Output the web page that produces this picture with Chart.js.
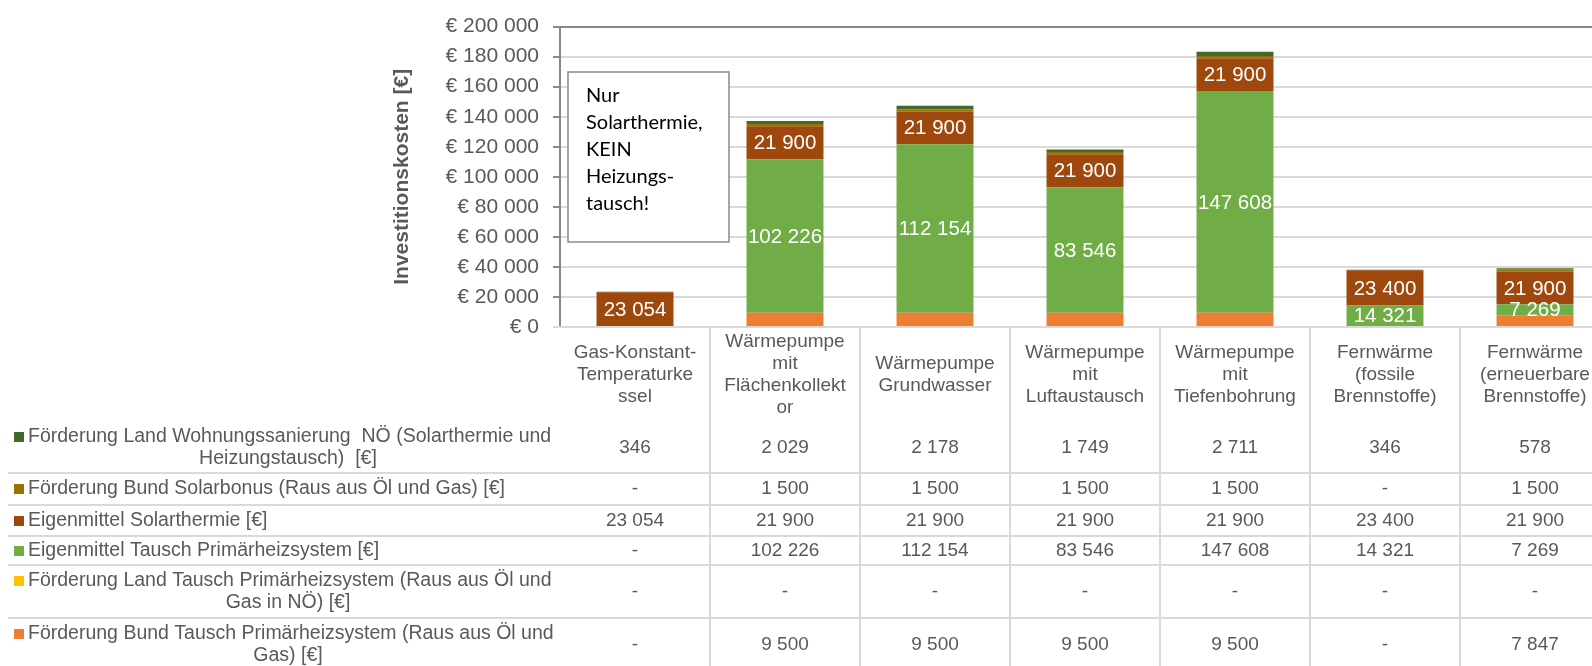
<!DOCTYPE html>
<html lang="de">
<head>
<meta charset="utf-8">
<title>Investitionskosten</title>
<script src="https://cdn.jsdelivr.net/npm/chart.js@4.4.1/dist/chart.umd.min.js"></script>
<style>
  html, body { margin: 0; padding: 0; background: #fff; overflow: hidden; }
  #wrap { width: 1592px; height: 666px; overflow: hidden; }
  canvas { display: block; }
</style>
</head>
<body>
<div id="wrap"><canvas id="chart" width="1620" height="666"></canvas></div>
<script>
// Kategorien (Zeilenumbrüche wie in der Tabelle)
const categories = [
  ['Gas-Konstant-', 'Temperaturke', 'ssel'],
  ['Wärmepumpe', 'mit', 'Flächenkollekt', 'or'],
  ['Wärmepumpe', 'Grundwasser'],
  ['Wärmepumpe', 'mit', 'Luftaustausch'],
  ['Wärmepumpe', 'mit', 'Tiefenbohrung'],
  ['Fernwärme', '(fossile', 'Brennstoffe)'],
  ['Fernwärme', '(erneuerbare', 'Brennstoffe)']
];

// Serien (von unten nach oben gestapelt)
const bundTausch = [0, 9500, 9500, 9500, 9500, 0, 7847];
const landTausch = [0, 0, 0, 0, 0, 0, 0];
const eigenTausch = [0, 102226, 112154, 83546, 147608, 14321, 7269];
const eigenSolar = [23054, 21900, 21900, 21900, 21900, 23400, 21900];
const bundSolarbonus = [0, 1500, 1500, 1500, 1500, 0, 1500];
const landWohnbau = [346, 2029, 2178, 1749, 2711, 346, 578];

const yTicks = [0, 20000, 40000, 60000, 80000, 100000, 120000, 140000, 160000, 180000, 200000];

const FONT = "'Liberation Sans', Arial, sans-serif";
const GREY = '#595959';

function fmt(v) {
  return String(v).replace(/\B(?=(\d{3})+(?!\d))/g, ' ');
}

const datasets = [
  { label: 'Förderung Bund Tausch Primärheizsystem (Raus aus Öl und Gas) [€]', data: bundTausch, backgroundColor: '#ED7D31' },
  { label: 'Förderung Land Tausch Primärheizsystem (Raus aus Öl und Gas in NÖ) [€]', data: landTausch, backgroundColor: '#FFC000' },
  { label: 'Eigenmittel Tausch Primärheizsystem [€]', data: eigenTausch, backgroundColor: '#70AD47', showValue: true },
  { label: 'Eigenmittel Solarthermie [€]', data: eigenSolar, backgroundColor: '#9E480E', showValue: true },
  { label: 'Förderung Bund Solarbonus (Raus aus Öl und Gas) [€]', data: bundSolarbonus, backgroundColor: '#997300' },
  { label: 'Förderung Land Wohnungssanierung  NÖ (Solarthermie und Heizungstausch)  [€]', data: landWohnbau, backgroundColor: '#43682B' }
];

// table layout (y edges of the rows)
const headerTop = 327;
const rowEdges = [422, 473, 505, 536, 565, 618, 672];

function wrap(ctx, text, maxW) {
  const words = text.split(' ');
  const lines = [];
  let cur = '';
  words.forEach(w => {
    const t = cur === '' ? w : cur + ' ' + w;
    if (ctx.measureText(t).width > maxW && cur !== '') {
      lines.push(cur);
      cur = w;
    } else cur = t;
  });
  lines.push(cur);
  return lines;
}

function drawJustified(ctx, line, x0, width, y) {
  const parts = line.split(' ');
  const wordsW = parts.reduce((s, p) => s + ctx.measureText(p).width, 0);
  const gap = Math.max((width - wordsW) / (parts.length - 1), ctx.measureText(' ').width);
  let x = x0;
  ctx.textAlign = 'left';
  parts.forEach(p => {
    ctx.fillText(p, x, y);
    x += ctx.measureText(p).width + gap;
  });
}

const valueLabels = {
  id: 'valueLabels',
  afterDatasetsDraw(chart) {
    const ctx = chart.ctx;
    ctx.save();
    ctx.font = '20.5px ' + FONT;
    ctx.fillStyle = '#fff';
    ctx.textAlign = 'center';
    ctx.textBaseline = 'middle';
    chart.data.datasets.forEach((ds, i) => {
      if (!ds.showValue) return;
      chart.getDatasetMeta(i).data.forEach((bar, j) => {
        const v = ds.data[j];
        if (!v) return;
        ctx.fillText(fmt(v), bar.x, (bar.y + bar.base) / 2 + 1);
      });
    });
    ctx.restore();
  }
};

const dataTable = {
  id: 'dataTable',
  afterDraw(chart) {
    const ctx = chart.ctx;
    const xs = chart.scales.x;
    const W = chart.width;
    const n = chart.data.labels.length;
    ctx.save();

    // borders
    ctx.strokeStyle = '#D9D9D9';
    ctx.lineWidth = 2;
    ctx.beginPath();
    ctx.moveTo(553, headerTop); ctx.lineTo(W, headerTop);
    for (let r = 1; r < rowEdges.length - 1; r++) {
      ctx.moveTo(8, rowEdges[r]); ctx.lineTo(W, rowEdges[r]);
    }
    for (let i = 0; i < n - 1; i++) {
      const bx = Math.round((xs.getPixelForValue(i) + xs.getPixelForValue(i + 1)) / 2);
      ctx.moveTo(bx, headerTop); ctx.lineTo(bx, 666);
    }
    ctx.stroke();

    // header
    ctx.fillStyle = GREY;
    ctx.font = '19px ' + FONT;
    ctx.textAlign = 'center';
    ctx.textBaseline = 'middle';
    const hc = (headerTop + rowEdges[0]) / 2;
    chart.data.labels.forEach((lines, i) => {
      const cx = xs.getPixelForValue(i);
      lines.forEach((l, k) => ctx.fillText(l, cx, hc + (k - (lines.length - 1) / 2) * 22));
    });

    // rows: legend + values
    const rows = chart.data.datasets.slice().reverse();
    rows.forEach((ds, r) => {
      const top = rowEdges[r], bot = rowEdges[r + 1];
      const cy = (top + bot) / 2;
      ctx.font = '19.5px ' + FONT;
      const lines = wrap(ctx, ds.label, 535);
      const y0 = cy - (lines.length - 1) * 11;
      ctx.fillStyle = ds.backgroundColor;
      ctx.fillRect(14, Math.round(y0 - 5), 10, 10);
      ctx.fillStyle = GREY;
      if (lines.length > 1) {
        drawJustified(ctx, lines[0], 28, 522, y0);
        ctx.textAlign = 'center';
        for (let k = 1; k < lines.length; k++) ctx.fillText(lines[k], 288, y0 + k * 22);
      } else {
        ctx.textAlign = 'left';
        ctx.fillText(lines[0], 28, y0);
      }
      ctx.font = '19px ' + FONT;
      ctx.textAlign = 'center';
      ds.data.forEach((v, j) => {
        ctx.fillText(v ? fmt(v) : '-', xs.getPixelForValue(j), cy);
      });
    });

    // note box
    ctx.fillStyle = '#fff';
    ctx.fillRect(568, 72, 161, 170);
    ctx.strokeStyle = '#898989';
    ctx.lineWidth = 1.5;
    ctx.strokeRect(568, 72, 161, 170);
    ctx.fillStyle = '#000';
    ctx.font = '20px Lato, sans-serif';
    ctx.textAlign = 'left';
    ['Nur', 'Solarthermie,', 'KEIN', 'Heizungs-', 'tausch!'].forEach((t, k) => {
      ctx.fillText(t, 586, 96 + k * 27);
    });
    ctx.restore();
  }
};

new Chart(document.getElementById('chart'), {
  type: 'bar',
  data: { labels: categories, datasets: datasets },
  options: {
    responsive: false,
    animation: false,
    devicePixelRatio: 1,
    layout: { padding: { left: 386, right: 10, top: 25, bottom: 339 } },
    datasets: { bar: { categoryPercentage: 1, barPercentage: 0.513 } },
    plugins: { legend: { display: false }, tooltip: { enabled: false } },
    scales: {
      x: { type: 'category', stacked: true, display: false },
      y: {
        stacked: true,
        min: 0,
        max: 200000,
        afterFit: s => { s.width = 174; },
        afterBuildTicks: s => { s.ticks = yTicks.map(v => ({ value: v })); },
        ticks: {
          font: { family: FONT, size: 21 },
          color: GREY,
          padding: 14,
          callback: v => '€ ' + fmt(v)
        },
        grid: {
          color: c => (c.tick && c.tick.value === 200000) ? '#898989' : '#D9D9D9',
          lineWidth: 2,
          tickLength: 7,
          tickColor: '#898989'
        },
        border: { display: true, color: '#898989', width: 2 },
        title: {
          display: true,
          text: 'Investitionskosten [€]',
          color: GREY,
          font: { family: FONT, size: 21, weight: 'bold' },
          padding: { top: 4, bottom: 0 }
        }
      }
    }
  },
  plugins: [valueLabels, dataTable]
});
</script>
</body>
</html>
